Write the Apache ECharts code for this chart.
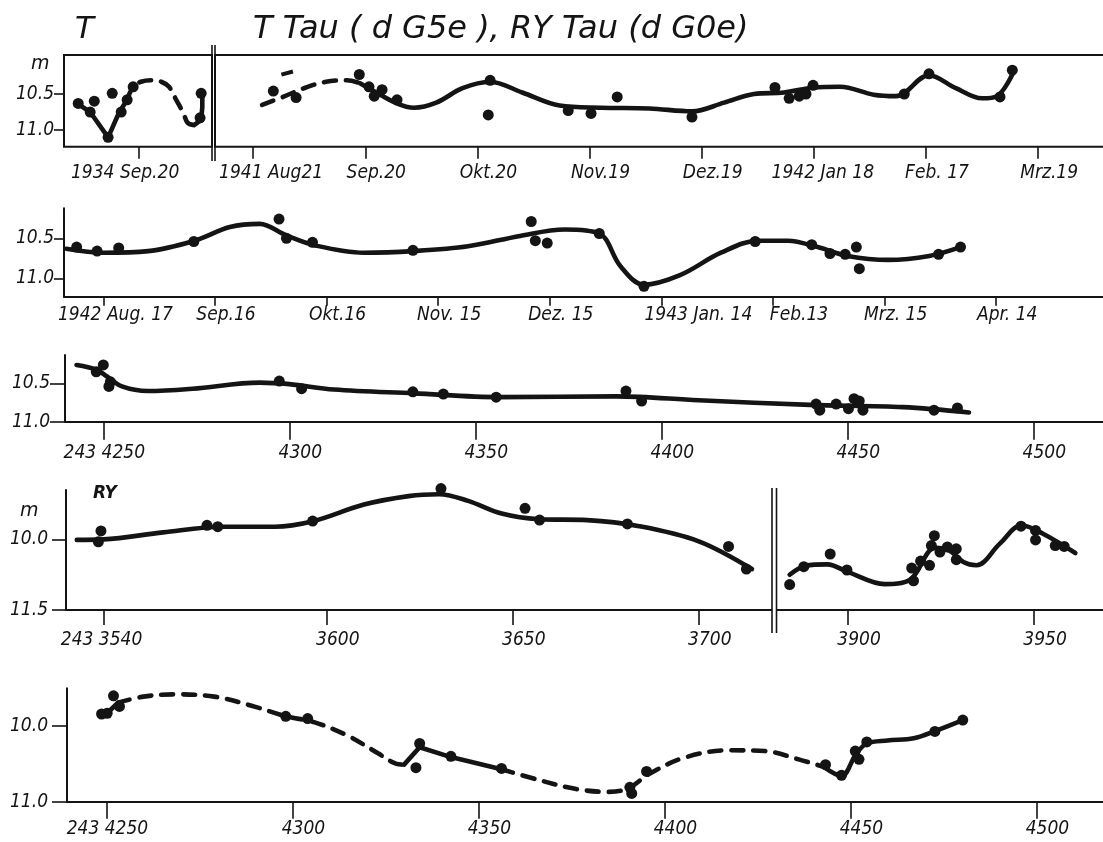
<!DOCTYPE html>
<html>
<head>
<meta charset="utf-8">
<title>T Tau (dG5e), RY Tau (dG0e)</title>
<script src="https://cdn.jsdelivr.net/npm/echarts@6/dist/echarts.min.js"></script>
<style>
  html, body { margin: 0; padding: 0; background: #fff; }
  #chart { width: 1103px; height: 842px; }
</style>
</head>
<body>
<div id="chart"></div>
<script>
// ---------- T Tau, 1934 (days counted from 1934 Sep 20) ----------
const ticks1934 = [0];
const labels1934 = ['1934 Sep.20'];
const obs1934 = [[-16.3,10.63],[-13.1,10.75],[-12.0,10.60],[-8.3,11.10],[-7.2,10.49],[-4.8,10.75],
  [-3.2,10.58],[-1.6,10.40],[16.3,10.83],[16.6,10.49]];
const curve1934a = [[-16.9,10.62],[-13.1,10.75],[-8.3,11.10],[-5.4,10.76],[-3.2,10.58]];          // solid
const curve1934b = [[-3.2,10.58],[-1.6,10.40],[0.5,10.33],[3.2,10.31],[5.9,10.33],[8.0,10.40],
  [9.9,10.58],[11.8,10.76],[13.0,10.90],[14.7,10.93]];                                           // dashed
const curve1934c = [[14.7,10.93],[16.6,10.86],[16.9,10.68],[16.9,10.49]];                         // solid

// ---------- T Tau, 1941/42 (days counted from 1941 Aug 21) ----------
const ticks1941 = [0, 30, 60, 90, 120, 150, 180, 210];
const labels1941 = ['1941 Aug21', 'Sep.20', 'Okt.20', 'Nov.19', 'Dez.19', '1942 Jan 18', 'Feb. 17', 'Mrz.19'];
const obs1941 = [[5.4,10.46],[11.5,10.55],[28.4,10.23],[31.0,10.40],[32.4,10.53],[34.5,10.44],[38.5,10.58],
  [63.4,10.31],[62.9,10.79],[84.3,10.73],[90.4,10.77],[97.4,10.54],[117.4,10.82],[139.6,10.41],[143.4,10.56],
  [146.1,10.53],[147.9,10.50],[149.8,10.38],[174.2,10.50],[180.8,10.22],[199.8,10.54],[203.1,10.17]];
const dash1941 = [[9.1,10.21]];
const curve1941a = [[2.4,10.65],[8.0,10.54],[13.6,10.42],[19.5,10.33],[25.1,10.31],[28.6,10.35]];   // dashed
const curve1941b = [[28.6,10.35],[33.0,10.48],[38.0,10.62],[43.0,10.69],[49.0,10.62],
  [56.0,10.42],[63.4,10.33],[72.0,10.48],[82.0,10.66],[93.0,10.69],[106.0,10.70],[117.4,10.74],
  [126.0,10.62],[134.0,10.50],[142.0,10.48],[150.0,10.41],[157.0,10.40],[166.0,10.51],
  [172.0,10.53],[180.8,10.24],[188.0,10.42],[195.0,10.56],[199.0,10.53],[203.3,10.21]];           // solid

// ---------- T Tau, 1942/43 (days counted from 1942 Aug 17) ----------
const ticks1942 = [0, 30, 60, 90, 120, 150, 180, 210, 240];
const labels1942 = ['1942 Aug. 17', 'Sep.16', 'Okt.16', 'Nov. 15', 'Dez. 15', '1943 Jan. 14', 'Feb.13', 'Mrz. 15', 'Apr. 14'];
const obs1942 = [[-7.2,10.61],[-1.7,10.66],[4.1,10.62],[24.3,10.54],[47.2,10.26],[49.2,10.50],[56.2,10.55],
  [83.2,10.65],[115.0,10.29],[116.1,10.53],[119.3,10.56],[133.3,10.44],[145.3,11.10],[175.2,10.54],
  [190.4,10.58],[195.3,10.69],[199.4,10.70],[202.4,10.61],[203.2,10.88],[224.5,10.70],[230.4,10.61]];
const curve1942 = [[-10,10.63],[0,10.68],[12,10.66],[24.5,10.53],[34,10.36],[42,10.32],
  [49.0,10.46],[57,10.59],[70,10.68],[83.2,10.66],[98,10.60],[112,10.47],[124,10.39],
  [133.3,10.44],[139,10.85],[145.3,11.08],[155,10.96],[166,10.68],[176,10.53],[184,10.53],
  [192,10.61],[200,10.72],[211,10.77],[222,10.72],[230.4,10.61]];

// ---------- T Tau, J.D. 243 4240 ... (third row) ----------
const ticksJD = [4250, 4300, 4350, 4400, 4450, 4500];
const labelsJD = ['243 4250', '4300', '4350', '4400', '4450', '4500'];
const obsTJD = [[4250,10.26],[4248.1,10.35],[4251.9,10.48],[4251.5,10.54],[4297.3,10.47],[4303.3,10.57],
  [4333.2,10.61],[4341.4,10.64],[4355.6,10.68],[4390.5,10.60],[4394.7,10.73],[4441.6,10.77],[4442.6,10.85],
  [4447.0,10.77],[4450.3,10.83],[4451.8,10.70],[4453.2,10.73],[4454.2,10.85],[4473.3,10.85],[4479.6,10.82]];
const curveTJD = [[4242.8,10.26],[4248.1,10.32],[4251.0,10.41],[4255.0,10.54],[4262,10.60],[4274,10.57],
  [4292,10.49],[4300,10.51],[4312,10.58],[4333.5,10.63],[4356.5,10.68],[4388,10.67],[4410,10.72],
  [4440,10.78],[4465.0,10.81],[4482.7,10.88]];

// ---------- RY Tau, J.D. 243 3530 ... 3720 and 3880 ... 3965 ----------
const ticksRY1 = [3540, 3600, 3650, 3700];
const labelsRY1 = ['243 3540', '3600', '3650', '3700'];
const obsRY1 = [[3539.3,9.82],[3538.6,10.05],[3567.8,9.70],[3570.7,9.73],[3596.2,9.61],[3630.7,8.92],
  [3653.3,9.34],[3657.2,9.59],[3680.8,9.67],[3708.0,10.15],[3712.8,10.63]];
const curveRY1 = [[3532.8,10.01],[3540,10.00],[3556,9.85],[3572,9.73],[3586,9.73],[3596,9.62],
  [3610,9.26],[3622,9.08],[3630.2,9.04],[3638,9.18],[3647,9.45],[3657,9.57],[3670,9.59],
  [3684,9.72],[3700,10.04],[3714.3,10.63]];

const ticksRY2 = [3900, 3950];
const labelsRY2 = ['3900', '3950'];
const obsRY2 = [[3884.3,10.96],[3888.1,10.58],[3895.2,10.31],[3899.7,10.65],[3917.1,10.61],[3917.6,10.88],
  [3919.5,10.46],[3921.9,10.55],[3923.2,9.92],[3922.4,10.13],[3924.7,10.27],[3926.7,10.16],[3929.1,10.20],
  [3929.1,10.43],[3946.5,9.72],[3950.4,9.81],[3950.4,10.01],[3955.7,10.13],[3958.1,10.15]];
const curveRY2 = [[3884.3,10.75],[3888.6,10.56],[3894.4,10.53],[3900.2,10.70],[3909.8,10.95],[3916.6,10.86],
  [3923.4,10.18],[3927.3,10.24],[3931,10.48],[3934.5,10.55],[3940.8,10.09],[3946.6,9.70],
  [3952.4,9.88],[3961.1,10.29]];

// ---------- RY Tau, J.D. 243 4240 ... (bottom row) ----------
const obsRY3 = [[4248.7,9.84],[4250.2,9.83],[4251.9,9.60],[4253.5,9.74],[4298.2,9.87],[4304.1,9.90],
  [4334.2,10.23],[4333.2,10.55],[4342.6,10.40],[4356.2,10.56],[4390.7,10.81],[4391.2,10.89],[4395.2,10.60],
  [4443.3,10.51],[4447.6,10.65],[4451.3,10.33],[4452.3,10.44],[4454.4,10.21],[4472.7,10.07],[4480.2,9.92]];
const curveRY3a = [[4248.7,9.84],[4250.2,9.83],[4253.1,9.69]];                                         // solid
const curveRY3b = [[4253.1,9.69],[4260,9.61],[4268.4,9.58],[4279.0,9.61],[4289,9.73],[4298.2,9.87],
  [4306,9.95],[4315,10.13],[4323,10.36],[4328.0,10.50],[4330.0,10.51]];                                // dashed
const curveRY3c = [[4330.0,10.51],[4334.2,10.28],[4342.6,10.41],[4356.2,10.57]];                        // solid
const curveRY3d = [[4356.2,10.57],[4366,10.71],[4376,10.83],[4384.5,10.87],[4390,10.83],
  [4396,10.63],[4405.2,10.42],[4417,10.32],[4427,10.33],[4436.1,10.44],[4442.8,10.54]];                // dashed
const curveRY3e = [[4442.8,10.54],[4447.6,10.66],[4451.5,10.37],[4454.4,10.23],[4460,10.19],[4467.0,10.16],
  [4473,10.06],[4480.2,9.92]];                                                                        // solid

// ---------- magnitude scales ----------
const magTicksT = [10.5, 11.0];
const magLabelsT = ['10.5', '11.0'];
const magTicksRY = [10.0, 11.5];
const magLabelsRY = ['10.0', '11.5'];
const magTicksRY3 = [10.0, 11.0];
const magLabelsRY3 = ['10.0', '11.0'];

// ---------- styling ----------
const INK = '#141414';
const FONT = 'DejaVu Sans Condensed';
const LABEL_SIZE = 19;
const DEFAULT_SHIFT = 11;
// horizontal nudge (px) of individual date labels relative to their tick
const labelShift = {
  '1934 Sep.20': -14, '1941 Aug21': 18, '1942 Jan 18': 9,
  '1942 Aug. 17': 12, '1943 Jan. 14': 37, 'Feb.13': 26,
  '243 4250': 1, '243 3540': -2
};

function richKey(s) { return (s < 0 ? 'm' : 'p') + Math.abs(s); }
const richStyles = {};
[DEFAULT_SHIFT, ...Object.values(labelShift)].forEach(s => {
  richStyles[richKey(s)] = {
    fontFamily: FONT, fontStyle: 'italic', fontSize: LABEL_SIZE, color: INK,
    padding: s >= 0 ? [0, 0, 0, 2 * s] : [0, -2 * s, 0, 0]
  };
});

function lookup(ticks, labels, v) {
  const i = ticks.findIndex(t => Math.abs(t - v) < 1e-6);
  return i < 0 ? '' : labels[i];
}

function xAxisCfg(idx, min, pxPerUnit, width, ticks, labels, tickLen, margin, showLine) {
  return {
    type: 'value', gridIndex: idx, min: min, max: min + width / pxPerUnit,
    axisLine: { show: showLine, onZero: false, lineStyle: { color: INK, width: 2 } },
    axisTick: { show: true, inside: false, length: tickLen, customValues: ticks,
      lineStyle: { color: INK, width: 1.6 } },
    splitLine: { show: false },
    axisLabel: {
      show: true, margin: margin, customValues: ticks,
      fontFamily: FONT, fontStyle: 'italic', fontSize: LABEL_SIZE, color: INK,
      formatter: v => {
        const lab = lookup(ticks, labels, v);
        const s = (lab in labelShift) ? labelShift[lab] : DEFAULT_SHIFT;
        return '{' + richKey(s) + '|' + lab + '}';
      },
      rich: richStyles
    }
  };
}

function yAxisCfg(idx, min, max, ticks, labels, tickLen, margin, showLine, show) {
  return {
    type: 'value', gridIndex: idx, inverse: true, min: min, max: max, show: show !== false,
    position: 'left',
    axisLine: { show: showLine, onZero: false, lineStyle: { color: INK, width: 2 } },
    axisTick: { show: true, inside: false, length: tickLen, customValues: ticks,
      lineStyle: { color: INK, width: 1.6 } },
    splitLine: { show: false },
    axisLabel: {
      show: true, margin: margin, customValues: ticks,
      fontFamily: FONT, fontStyle: 'italic', fontSize: LABEL_SIZE, color: INK,
      formatter: v => lookup(ticks, labels, v)
    }
  };
}

function gridCfg(left, top, width, height, framed) {
  return {
    left: left, top: top, width: width, height: height,
    containLabel: false, outerBoundsMode: 'none',
    show: !!framed, borderColor: INK, borderWidth: 2, backgroundColor: 'transparent'
  };
}

function dots(idx, data, size) {
  return {
    type: 'scatter', xAxisIndex: idx, yAxisIndex: idx, data: data,
    symbol: 'circle', symbolSize: size || 11, clip: false, silent: true,
    itemStyle: { color: INK, opacity: 1 }
  };
}

function curve(idx, data, dashed, smooth) {
  return {
    type: 'line', xAxisIndex: idx, yAxisIndex: idx, data: data,
    symbol: 'none', showSymbol: false, clip: false, silent: true,
    smooth: smooth === undefined ? 0.35 : smooth,
    lineStyle: { color: INK, width: 4.6, opacity: 1, type: dashed ? [12, 10] : 'solid', cap: 'round', join: 'round' }
  };
}

function breakLine(x, y1, y2) {
  return { type: 'line', shape: { x1: x, y1: y1, x2: x, y2: y2 },
    style: { stroke: INK, lineWidth: 1.6 }, silent: true };
}

const grids = [
  gridCfg(64, 55, 148, 91.7, true),     // 0: T Tau 1934
  gridCfg(215, 55, 895, 91.7, true),    // 1: T Tau 1941/42
  gridCfg(64, 208.3, 1039, 88.4),       // 2: T Tau 1942/43
  gridCfg(65, 355, 1038, 66.7),         // 3: T Tau JD
  gridCfg(66, 490, 705.5, 120),         // 4: RY Tau left
  gridCfg(777, 490, 326, 120),          // 5: RY Tau right
  gridCfg(67, 688.3, 1036, 113.4)       // 6: RY Tau JD
];

const xAxes = [
  xAxisCfg(0, -20.1, 3.738, 148, ticks1934, labels1934, 12, 17, false),
  xAxisCfg(1, -10.2, 3.738, 895, ticks1941, labels1941, 12, 17, false),
  xAxisCfg(2, -10.6, 3.72, 1039, ticks1942, labels1942, 9, 9, true),
  xAxisCfg(3, 4239.7, 3.72, 1038, ticksJD, labelsJD, 18, 22, true),
  xAxisCfg(4, 3529.9, 3.72, 705.5, ticksRY1, labelsRY1, 15, 21, true),
  xAxisCfg(5, 3880.9, 3.72, 326, ticksRY2, labelsRY2, 15, 21, true),
  xAxisCfg(6, 4239.4, 3.72, 1036, ticksJD, labelsJD, 17, 18, true)
];

const yAxes = [
  yAxisCfg(0, 9.96, 11.23, magTicksT, magLabelsT, 10, 10, false),
  yAxisCfg(1, 9.96, 11.23, [], [], 0, 0, false, false),
  yAxisCfg(2, 10.125, 11.23, magTicksT, magLabelsT, 10, 10, true),
  yAxisCfg(3, 10.13, 11.0, magTicksT, magLabelsT, 15, 15, true),
  yAxisCfg(4, 8.95, 11.5, magTicksRY, magLabelsRY, 14, 18, true),
  yAxisCfg(5, 8.95, 11.5, [], [], 0, 0, false, false),
  yAxisCfg(6, 9.50, 11.0, magTicksRY3, magLabelsRY3, 15, 19, true)
];

const series = [
  curve(0, curve1934a, false, false),
  curve(0, curve1934b, true),
  curve(0, curve1934c, false, false),
  dots(0, obs1934),
  curve(1, curve1941a, true),
  curve(1, curve1941b, false),
  dots(1, obs1941),
  {
    type: 'scatter', xAxisIndex: 1, yAxisIndex: 1, data: dash1941,
    symbol: 'rect', symbolSize: [12, 4], symbolRotate: 15, clip: false, silent: true,
    itemStyle: { color: INK, opacity: 1 }
  },
  curve(2, curve1942, false),
  dots(2, obs1942),
  curve(3, curveTJD, false),
  dots(3, obsTJD),
  curve(4, curveRY1, false),
  dots(4, obsRY1),
  curve(5, curveRY2, false),
  dots(5, obsRY2),
  curve(6, curveRY3a, false, false),
  curve(6, curveRY3b, true),
  curve(6, curveRY3c, false, false),
  curve(6, curveRY3d, true),
  curve(6, curveRY3e, false),
  dots(6, obsRY3)
];

const textStyle = (size) => ({
  fontFamily: 'DejaVu Sans', fontStyle: 'italic', fontWeight: 'normal', fontSize: size, color: INK
});

const option = {
  animation: false,
  backgroundColor: '#ffffff',
  title: [
    { text: 'T', left: 70, top: 9, textStyle: textStyle(31) },
    { text: 'T Tau ( d G5e ), RY Tau (d G0e)', left: 248, top: 9, textStyle: textStyle(32) },
    { text: 'm', left: 26, top: 50, textStyle: textStyle(19) },
    { text: 'm', left: 15, top: 497, textStyle: textStyle(19) },
    { text: 'RY', left: 88, top: 480, textStyle: Object.assign(textStyle(17), { fontWeight: 'bold' }) }
  ],
  grid: grids,
  xAxis: xAxes,
  yAxis: yAxes,
  series: series,
  graphic: [
    breakLine(212, 45, 161),
    breakLine(215, 45, 161),
    breakLine(772, 488, 633),
    breakLine(776.5, 488, 633)
  ]
};

const chart = echarts.init(document.getElementById('chart'), null, { renderer: 'canvas' });
chart.setOption(option);
</script>
</body>
</html>
